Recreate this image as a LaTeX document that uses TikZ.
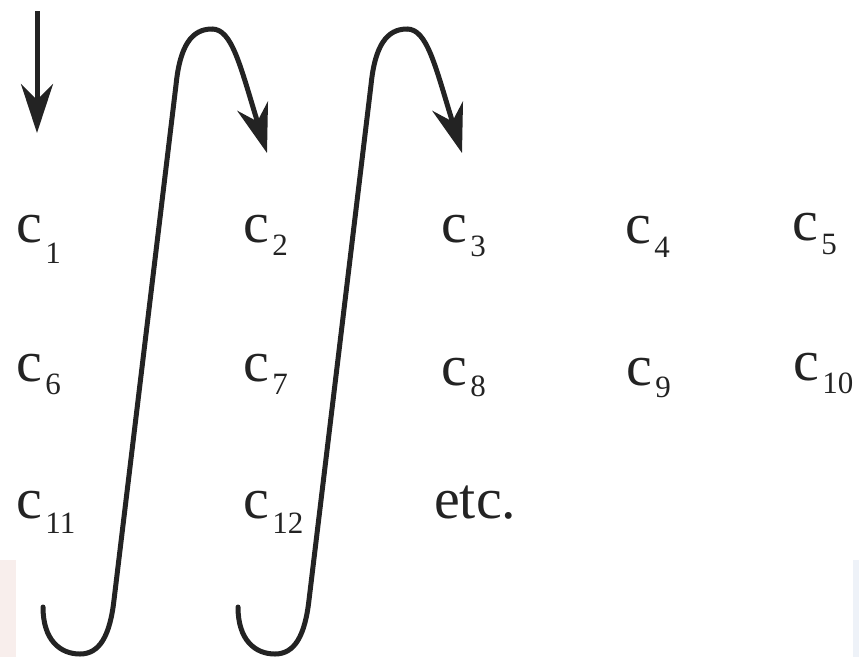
\documentclass[tikz,border=0pt]{standalone}
\usepackage{fontspec}
\setmainfont{Liberation Serif}
\usetikzlibrary{arrows.meta}
\definecolor{ink}{RGB}{35,35,35}
\newcommand{\subf}{\fontsize{31}{31}\selectfont}
\tikzset{
  lab/.style={font=\fontsize{58}{60}\selectfont, text=ink, inner sep=0pt, anchor=base west},
  flow/.style={draw=ink, line width=5pt, line cap=butt,
    -{Stealth[length=49pt, width=32pt, inset=16pt]}},
  hook/.style={draw=ink, line width=5pt, line cap=round}
}
\newcommand{\cc}[2]{c\hspace{3pt}\raisebox{-#2pt}{\subf #1}}
\begin{document}
\begin{tikzpicture}[x=1pt,y=-1pt]
\useasboundingbox (0,0) rectangle (859,657);
\fill[fill={rgb,255:red,248;green,238;blue,236}] (0,560) rectangle (16,657);
\fill[fill={rgb,255:red,238;green,242;blue,248}] (853,560) rectangle (859,657);
% labels
\node[lab] (c1) at (16.5,242) {\cc{1}{21}};
\node[lab] (c2) at (243.5,242) {\cc{2}{13}};
\node[lab] (c3) at (441.5,242) {\cc{3}{14}};
\node[lab] (c4) at (625.5,243) {\cc{4}{14}};
\node[lab] (c5) at (792.5,240) {\cc{5}{14}};
\node[lab] (c6) at (16.5,381) {\cc{6}{13}};
\node[lab] (c7) at (243.5,381) {\cc{7}{13}};
\node[lab] (c8) at (441.5,385) {\cc{8}{11}};
\node[lab] (c9) at (626.5,385) {\cc{9}{12}};
\node[lab] (c10) at (793.5,380) {\cc{10}{13}};
\node[lab] (c11) at (16.5,518) {\cc{11}{15}};
\node[lab] (c12) at (243.5,518) {\cc{12}{15}};
\node[lab] (etc) at (434,518) {etc.};
% arrows
\coordinate (s0) at (37,11);
\coordinate (t0) at (37,133);
\draw[flow] (s0) -- (t0);
\foreach \i/\dx in {1/0,2/195}{
  \coordinate (h\i) at (43+\dx,607);
  \coordinate (t\i) at (267+\dx,153);
  \draw[hook] (h\i) .. controls (43+\dx,640) and (60+\dx,654) .. (80+\dx,654)
     .. controls (100+\dx,654) and (110+\dx,635) .. (114+\dx,600)
     -- (176+\dx,85)
     .. controls (180+\dx,45) and (192+\dx,29) .. (212+\dx,29);
  \draw[flow] (212+\dx,29) .. controls (232+\dx,29) and (240+\dx,65) .. (t\i);
}
\end{tikzpicture}
\end{document}
